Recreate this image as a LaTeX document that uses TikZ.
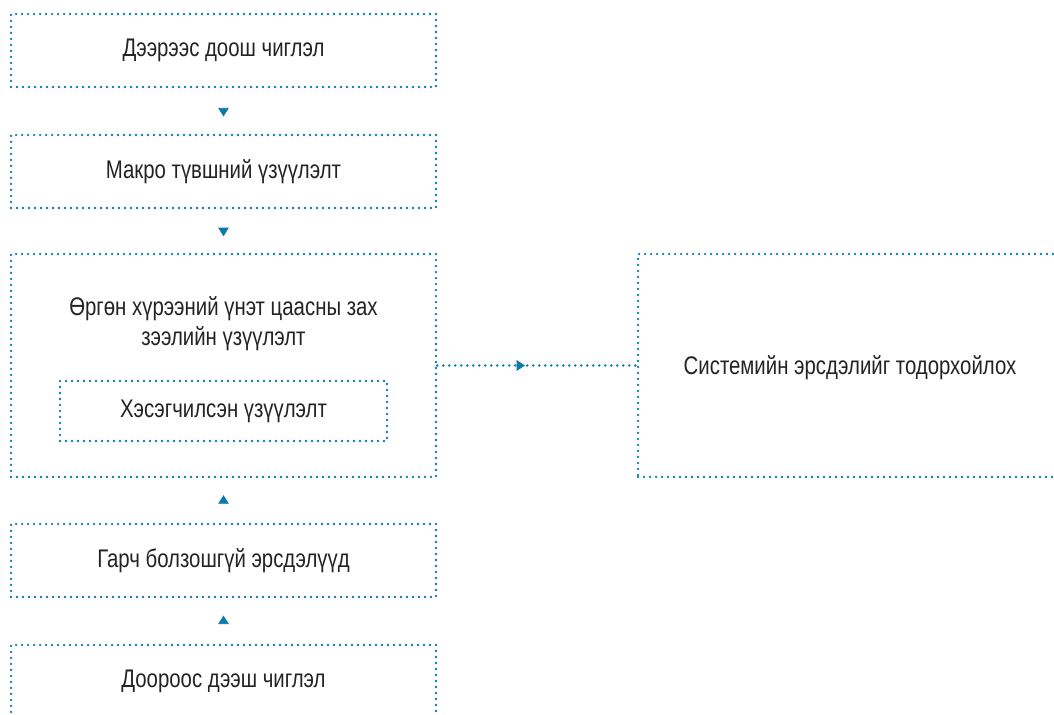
\documentclass[tikz,border=0pt]{standalone}
\usepackage{fontspec}
\setmainfont[FakeStretch=0.8]{Liberation Sans}
\usetikzlibrary{arrows.meta,positioning,decorations.markings}
\definecolor{dotblue}{RGB}{10,122,166}
\definecolor{inkgray}{RGB}{35,35,35}

\tikzset{
    panel/.style={draw=dotblue, line width=1.5pt, line cap=round,
        dash pattern=on 0pt off 0.12cm, text=inkgray, align=center,
        minimum width=8.5cm, minimum height=1.46cm, inner sep=0pt, font=\fontsize{14.5}{17}\selectfont},
    midtip/.style={postaction={decorate}, decoration={markings,
        mark=at position #1 with {\arrow[dotblue]{Triangle[width=0.21cm,length=0.17cm]}}}},
    linkline/.style={draw=dotblue, line width=1.5pt, line cap=round, dash pattern=on 0pt off 0.12cm}
}

\begin{document}
\begin{tikzpicture}[x=0.02cm, y=-0.02cm]
    \useasboundingbox (0,0) rectangle (1054,715);
    \clip (0,0) rectangle (1054,715);

    % Top-down column
    \node[panel] (topdown) at (223.5,50.5) {Дээрээс доош чиглэл};
    \node[panel] (macro) at (223.5,171.5) {Макро түвшний үзүүлэлт};

    % Broad box with partial box inside
    \node[panel, minimum height=4.46cm] (broad) at (223.5,365.5) {};
    \node[text=inkgray, align=center, font=\fontsize{14.5}{17}\selectfont] (broadtext) at (223.5,323.5) {Өргөн хүрээний үнэт цаасны зах\\зээлийн үзүүлэлт};
    \node[panel, minimum width=6.54cm, minimum height=1.2cm] (partial) at (223.5,411) {Хэсэгчилсэн үзүүлэлт};

    % Systemic risk
    \node[panel, minimum width=8.4cm, minimum height=4.46cm] (systemic) at (848,365.5) {};
    \node[text=inkgray, font=\fontsize{14.5}{17}\selectfont] (systemictext) at (850,368) {Системийн эрсдэлийг тодорхойлох};

    % Bottom-up column
    \node[panel] (risks) at (223.5,560.5) {Гарч болзошгүй эрсдэлүүд};
    \node[panel] (bottomup) at (223.5,681.5) {Доороос дээш чиглэл};

    % Arrows
    \path[midtip=0.62] (topdown.south) -- (macro.north);
    \path[midtip=0.62] (macro.south) -- (broad.north);
    \path[midtip=0.62] (risks.north) -- (broad.south);
    \path[midtip=0.62] (bottomup.north) -- (risks.south);
    \path[linkline, midtip=0.44] (broad.east) -- (systemic.west);
\end{tikzpicture}
\end{document}
